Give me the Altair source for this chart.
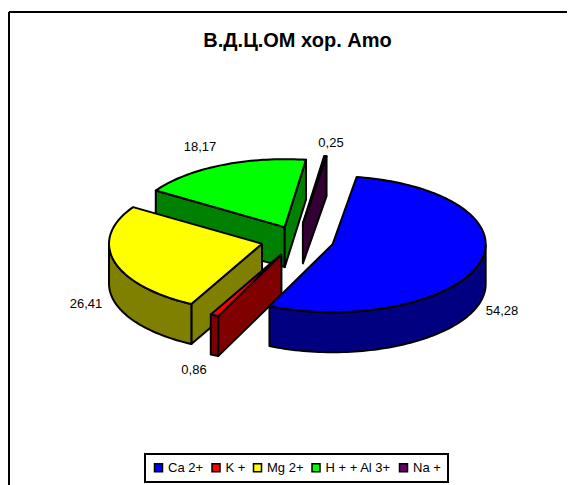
import math
import altair as alt
import pandas as pd

categories = ["Ca 2+", "K +", "Mg 2+", "H + + Al 3+", "Na +"]
values = [54.28, 0.86, 26.41, 18.17, 0.25]
labels = ["54,28", "0,86", "26,41", "18,17", "0,25"]
top_colors = ["#0000FF", "#FF0000", "#FFFF00", "#00FF00", "#660066"]
wall_colors = ["#000080", "#800000", "#808000", "#008000", "#330033"]
explode = [0.24, 0.24, 0.24, 0.20, 0.24]
paint_order = [3, 4, 2, 1, 0]
label_x = [502, 194, 86, 200, 331]
label_y = [311, 370, 304, 147, 143]

W, H = 559, 477
OX, OY = 8, 8
CX, CY = 297.5, 239.5
A, B = 153.0, 68.0
DEPTH = 40.0
START = 9.0
STEP = 1.5

X = alt.Scale(domain=[0, W], nice=False, zero=False)
Y = alt.Scale(domain=[H, 0], nice=False, zero=False)

angles = [START]
for v in values:
    angles.append(angles[-1] + v * 3.6)


def apex(i):
    mid = math.radians((angles[i] + angles[i + 1]) / 2)
    return CX + explode[i] * A * math.sin(mid), CY - explode[i] * B * math.cos(mid)


def rim(i, t):
    ax, ay = apex(i)
    r = math.radians(t)
    return ax + A * math.sin(r), ay - B * math.cos(r)


def arc_points(i, t0, t1):
    n = max(2, int(abs(t1 - t0) / STEP) + 2)
    return [rim(i, t0 + (t1 - t0) * k / (n - 1)) for k in range(n)]


def polygon(pts, fill):
    closed = list(pts) + [pts[0]]
    df = pd.DataFrame({
        "x": [p[0] - OX for p in closed],
        "y": [p[1] - OY for p in closed],
        "i": list(range(len(closed))),
    })
    return alt.Chart(df).mark_line(fill=fill, stroke="black", strokeWidth=2, strokeJoin="round").encode(
        x=alt.X("x:Q", scale=X, axis=None),
        y=alt.Y("y:Q", scale=Y, axis=None),
        order="i:Q",
    )


layers = []

# chart frame: only its top and left edges fall inside the picture
top_edge = pd.DataFrame({"x": [1, W], "y": [4, 4]})
left_edge = pd.DataFrame({"x": [1, 1], "y": [4, H]})
for edge in (top_edge, left_edge):
    layers.append(alt.Chart(edge).mark_line(color="black", strokeWidth=2).encode(
        x=alt.X("x:Q", scale=X, axis=None),
        y=alt.Y("y:Q", scale=Y, axis=None),
    ))

for i in paint_order:
    t0, t1 = angles[i], angles[i + 1]
    ax, ay = apex(i)
    wall = wall_colors[i]
    # radial walls that face the viewer
    if math.sin(math.radians(t0)) < 0:
        p = rim(i, t0)
        layers.append(polygon([(ax, ay), p, (p[0], p[1] + DEPTH), (ax, ay + DEPTH)], wall))
    if math.sin(math.radians(t1)) > 0:
        p = rim(i, t1)
        layers.append(polygon([(ax, ay), p, (p[0], p[1] + DEPTH), (ax, ay + DEPTH)], wall))
    # outer wall, front half only
    lo, hi = max(t0, 90), min(t1, 270)
    if lo < hi:
        arc = arc_points(i, lo, hi)
        layers.append(polygon(arc + [(x, y + DEPTH) for x, y in reversed(arc)], wall))
    # top face
    layers.append(polygon([(ax, ay)] + arc_points(i, t0, t1), top_colors[i]))

label_df = pd.DataFrame({"x": [v - OX for v in label_x], "y": [v - OY for v in label_y], "t": labels})
layers.append(alt.Chart(label_df).mark_text(font="Liberation Sans", fontSize=13, color="black").encode(
    x=alt.X("x:Q", scale=X, axis=None),
    y=alt.Y("y:Q", scale=Y, axis=None),
    text="t:N",
))

title_df = pd.DataFrame({"x": [297.5 - OX], "y": [41 - OY], "t": ["В.Д.Ц.ОМ хор. Amo"]})
layers.append(alt.Chart(title_df).mark_text(font="Liberation Sans", fontSize=20, fontWeight="bold", color="black").encode(
    x=alt.X("x:Q", scale=X, axis=None),
    y=alt.Y("y:Q", scale=Y, axis=None),
    text="t:N",
))

legend_df = pd.DataFrame({"cat": categories, "v": values})
layers.append(alt.Chart(legend_df).mark_square(opacity=0, size=1).encode(
    x=alt.value(0),
    y=alt.value(0),
    color=alt.Color("cat:N", sort=categories,
        scale=alt.Scale(domain=categories, range=top_colors),
        legend=alt.Legend(
            title=None, orient="none", legendX=137, legendY=446, direction="horizontal", columns=5,
            symbolType="square", symbolSize=64, symbolStrokeColor="black", symbolStrokeWidth=1.5,
            symbolOpacity=1, labelFont="Liberation Sans", labelFontSize=13, labelColor="black",
            columnPadding=4.5, strokeColor="black", fillColor="white", padding=7, labelOffset=3,
        )),
))

chart = alt.layer(*layers).properties(
    width=W, height=H, padding=0, background="white",
    autosize=alt.AutoSizeParams(type="none", contains="padding"),
).configure_view(stroke=None).configure_legend(strokeWidth=2)
chart.save("out.html", embed_options={"renderer": "svg", "actions": False})
